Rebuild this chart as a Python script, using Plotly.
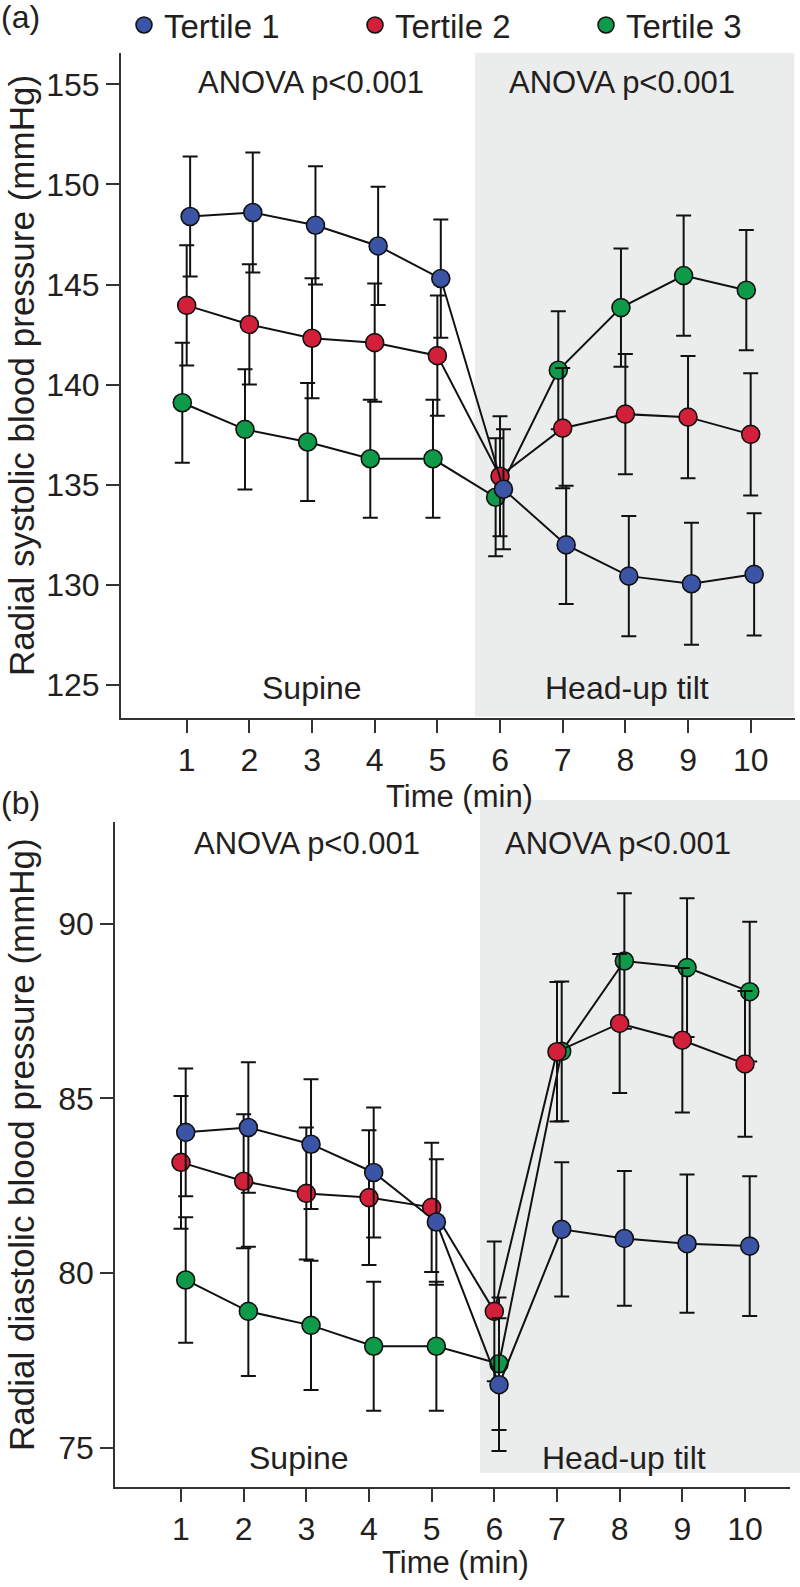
import plotly.graph_objects as go

# ---------------- data ----------------
time_min = [1, 2, 3, 4, 5, 6, 7, 8, 9, 10]
series_names = ["Tertile 1", "Tertile 2", "Tertile 3"]

# Panel (a) radial systolic BP (mmHg), mean and error
sbp_t1 = [148.4, 148.6, 147.96, 146.93, 145.3, 134.78, 132.0, 130.44, 130.06, 130.53]
sbp_t2 = [143.96, 143.01, 142.32, 142.1, 141.45, 135.43, 137.83, 138.53, 138.38, 137.52]
sbp_t3 = [139.1, 137.77, 137.14, 136.3, 136.3, 134.38, 140.72, 143.85, 145.45, 144.72]
sbp_t1_err = [3.0, 3.0, 2.95, 2.95, 2.95, 3.0, 2.95, 3.0, 3.05, 3.05]
sbp_t2_err = [3.0, 3.0, 3.0, 2.95, 3.0, 3.0, 3.0, 3.0, 3.05, 3.05]
sbp_t3_err = [3.0, 3.0, 2.95, 2.95, 2.95, 2.95, 2.95, 2.95, 3.0, 3.0]

# Panel (b) radial diastolic BP (mmHg), mean and error
dbp_t1 = [84.03, 84.17, 83.69, 82.88, 81.46, 76.8, 81.25, 80.99, 80.84, 80.77]
dbp_t2 = [83.17, 82.63, 82.28, 82.16, 81.88, 78.9, 86.34, 87.15, 86.67, 85.99]
dbp_t3 = [79.8, 78.9, 78.5, 77.9, 77.9, 77.4, 86.35, 88.94, 88.75, 88.06]
dbp_t1_err = [1.83, 1.87, 1.86, 1.86, 1.8, 1.9, 1.92, 1.93, 1.98, 2.0]
dbp_t2_err = [1.9, 1.92, 1.89, 1.93, 1.85, 2.0, 2.0, 1.99, 2.07, 2.09]
dbp_t3_err = [1.8, 1.85, 1.85, 1.85, 1.85, 1.9, 2.0, 1.94, 1.99, 2.0]

sbp_ticks = [125, 130, 135, 140, 145, 150, 155]
dbp_ticks = [75, 80, 85, 90]
anova_text = "ANOVA p<0.001"
phase_labels = ["Supine", "Head-up tilt"]

# ---------------- styling ----------------
W, H = 800, 1587
colors = ["#3B54A5", "#D2203A", "#0F9A4A"]
FONT = "Liberation Sans, Arial, sans-serif"
TXT = "#231F20"
SHADE = "#EBECEC"


def px(x):
    return x / W


def py(y):
    return 1 - y / H


fig = go.Figure()

panels = [
    dict(xa="x", ya="y", series=[sbp_t1, sbp_t2, sbp_t3],
         errs=[sbp_t1_err, sbp_t2_err, sbp_t3_err], dodge=[0.055, 0.0, -0.07]),
    dict(xa="x2", ya="y2", series=[dbp_t1, dbp_t2, dbp_t3],
         errs=[dbp_t1_err, dbp_t2_err, dbp_t3_err], dodge=[0.075, 0.0, 0.075]),
]

draw_order = [2, 1, 0]
for p in panels:
    for i in draw_order:
        fig.add_trace(go.Scatter(
            x=[t + p["dodge"][i] for t in time_min], y=p["series"][i],
            xaxis=p["xa"], yaxis=p["ya"], mode="lines+markers",
            line=dict(color="#111111", width=2),
            marker=dict(size=18, color=colors[i], line=dict(color="#111111", width=1.6)),
            error_y=dict(type="data", array=p["errs"][i], visible=True,
                         color="#111111", thickness=2, width=7.5),
            showlegend=False, hoverinfo="skip"))

# legend-only traces
for i, name in enumerate(series_names):
    fig.add_trace(go.Scatter(
        x=[None], y=[None], mode="markers", name=name,
        marker=dict(size=16, color=colors[i], line=dict(color="#111111", width=1.6)),
        showlegend=True))

axis_common = dict(showline=True, linecolor="#333333", linewidth=1.5, ticks="outside",
                   ticklen=13, tickwidth=1.5, tickcolor="#333333", showgrid=False,
                   zeroline=False, automargin=False,
                   tickfont=dict(family=FONT, size=32, color=TXT))

fig.update_layout(
    width=W, height=H, margin=dict(l=0, r=0, t=0, b=0, autoexpand=False),
    paper_bgcolor="white", plot_bgcolor="rgba(0,0,0,0)",
    font=dict(family=FONT, color=TXT),
    xaxis=dict(domain=[px(120.7), px(795)], range=[-0.053, 10.707], anchor="y",
               tickmode="array", tickvals=time_min, **axis_common),
    yaxis=dict(domain=[py(718.3), py(52.7)], range=[123.34, 156.58], anchor="x",
               tickmode="array", tickvals=sbp_ticks, **axis_common),
    xaxis2=dict(domain=[px(115), px(790)], range=[-0.053, 10.718], anchor="y2",
                tickmode="array", tickvals=time_min, **axis_common),
    yaxis2=dict(domain=[py(1487.3), py(821.7)], range=[73.86, 92.93], anchor="x2",
                tickmode="array", tickvals=dbp_ticks, **axis_common),
    legend=dict(orientation="h", x=px(124), xanchor="left", y=py(-3), yanchor="top",
                font=dict(family=FONT, size=33, color=TXT),
                entrywidth=186, entrywidthmode="pixels", bgcolor="rgba(0,0,0,0)",
                itemsizing="trace"),
)

# shaded head-up tilt regions
fig.add_shape(type="rect", xref="paper", yref="paper", x0=px(475), x1=px(794.3),
              y0=py(716.5), y1=py(52.7), fillcolor=SHADE, line_width=0, layer="below")
fig.add_shape(type="rect", xref="paper", yref="paper", x0=px(480), x1=px(800),
              y0=py(1473), y1=py(800), fillcolor=SHADE, line_width=0, layer="below")


def ann(text, x, y, size, angle=0, xanchor="center", yanchor="middle"):
    fig.add_annotation(text=text, x=px(x), y=py(y), xref="paper", yref="paper",
                       showarrow=False, xanchor=xanchor, yanchor=yanchor,
                       borderpad=0, textangle=angle,
                       font=dict(family=FONT, size=size, color=TXT))


ann("(a)", 0, 17, 32, xanchor="left")
ann("(b)", 0, 803, 32, xanchor="left")
ann(anova_text, 311, 83, 31)
ann(anova_text, 622, 83, 31)
ann(anova_text, 307, 843, 31)
ann(anova_text, 618, 843, 31)
ann(phase_labels[0], 312, 688, 32)
ann(phase_labels[1], 627, 688, 32)
ann(phase_labels[0], 299, 1458, 32)
ann(phase_labels[1], 624, 1458, 32)
ann("Time (min)", 460, 796, 31)
ann("Time (min)", 455, 1562, 31)
ann("Radial systolic blood pressure (mmHg)", 21, 376, 35, angle=-90)
ann("Radial diastolic blood pressure (mmHg)", 21, 1145, 35, angle=-90)

fig.write_html("out.html", config={"displayModeBar": False},
               post_script="document.body.style.margin='0px';document.body.style.padding='0px';")
